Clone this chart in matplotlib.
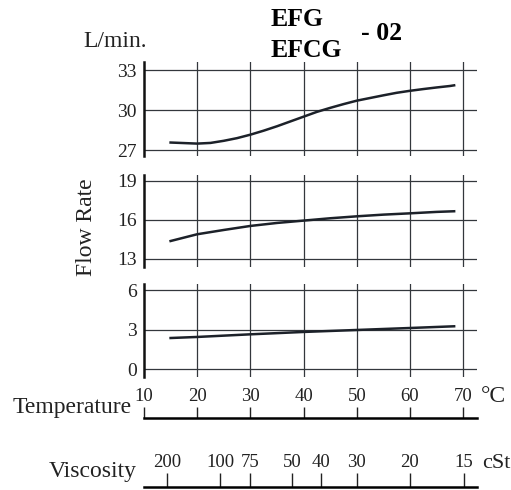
import numpy as np
import matplotlib
matplotlib.use("Agg")
import matplotlib.pyplot as plt

plt.rcParams["font.family"] = ["Liberation Serif", "DejaVu Serif"]

# flow rate (L/min) vs oil temperature (deg C), three pump sizes
temp_top = [15, 20, 22.5, 25, 27.5, 30, 32.5, 35, 37.5, 40, 42.5, 45, 47.5, 50,
            52.5, 55, 57.5, 60, 62.5, 65, 67.5, 68.3]
flow_top = [27.56, 27.48, 27.53, 27.69, 27.89, 28.15, 28.45, 28.78, 29.14, 29.5,
            29.86, 30.16, 30.44, 30.7, 30.9, 31.1, 31.29, 31.44, 31.57, 31.69, 31.8, 31.85]

temp_mid = [15, 20, 25, 30, 35, 40, 45, 50, 55, 60, 65, 68.3]
flow_mid = [14.38, 14.9, 15.23, 15.54, 15.77, 15.95, 16.13, 16.28, 16.41, 16.51, 16.62, 16.67]

temp_low = [15, 20, 30, 40, 50, 60, 68.3]
flow_low = [2.36, 2.44, 2.64, 2.82, 2.97, 3.12, 3.25]

panel_ticks = [[27, 30, 33], [13, 16, 19], [0, 3, 6]]
panel_lims = [(26.55, 33.6), (12.38, 19.46), (-0.6, 6.46)]

temp_ticks = [10, 20, 30, 40, 50, 60, 70]
visc_labels = ["200", "100", "75", "50", "40", "30", "20", "15"]
visc_at_temp = [14.3, 24.3, 29.9, 37.8, 43.3, 50.0, 60.0, 70.2]

W, H = 511, 490
fig = plt.figure(figsize=(W / 100, H / 100), dpi=100)

def box(x0, y0, x1, y1):
    # pixel box (top-left origin) -> figure fraction rect
    return [x0 / W, 1 - y1 / H, (x1 - x0) / W, (y1 - y0) / H]

xlim = (10, 72.6)
line_c = "#1c2129"
grid_c = "#33373c"
text_c = "#222222"

panels = [box(144, 62, 477, 156), box(144, 175, 477, 267), box(144, 284, 477, 377)]
series = [(temp_top, flow_top), (temp_mid, flow_mid), (temp_low, flow_low)]
for rect, (xs, ys), ticks, lim in zip(panels, series, panel_ticks, panel_lims):
    ax = fig.add_axes(rect)
    ax.set_xlim(*xlim)
    ax.set_ylim(*lim)
    for s in ["top", "right", "bottom"]:
        ax.spines[s].set_visible(False)
    ax.spines["left"].set_linewidth(1.8)
    ax.spines["left"].set_color("#111111")
    ax.set_xticks([])
    ax.set_yticks(ticks)
    ax.tick_params(axis="y", length=0, pad=5, labelsize=14, colors=text_c)
    for t in ticks:
        ax.axhline(t, color=grid_c, lw=0.9, zorder=1)
    for t in temp_ticks[1:]:
        ax.axvline(t, color=grid_c, lw=0.9, zorder=1)
    ax.plot(xs, ys, color=line_c, lw=1.8, zorder=3)

# temperature scale
axt = fig.add_axes(box(144, 410, 477, 418))
axt.set_xlim(*xlim)
axt.set_ylim(0, 1)
for s in ["top", "right", "left"]:
    axt.spines[s].set_visible(False)
axt.spines["bottom"].set_linewidth(1.8)
axt.set_yticks([])
axt.set_xticks(temp_ticks)
axt.tick_params(axis="x", direction="in", length=8, width=1.0, bottom=True,
                labelbottom=False, labeltop=True, top=False, pad=3.5, labelsize=13.5,
                colors=text_c)
axt.patch.set_alpha(0)

# viscosity scale, placed at the matching temperatures
axv = fig.add_axes(box(144, 477, 477, 487))
axv.set_xlim(*xlim)
axv.set_ylim(0, 1)
for s in ["top", "right", "left"]:
    axv.spines[s].set_visible(False)
axv.spines["bottom"].set_linewidth(1.8)
axv.set_yticks([])
axv.set_xticks(visc_at_temp)
axv.set_xticklabels(visc_labels)
axv.tick_params(axis="x", direction="in", length=10, width=1.0, bottom=True,
                labelbottom=False, labeltop=True, top=False, pad=4, labelsize=13.5,
                colors=text_c)
axv.patch.set_alpha(0)

fig.text(83 / W, 1 - 47 / H, "L/min.", fontsize=17, va="baseline", ha="left", color=text_c)
fig.text(87 / W, 1 - 227 / H, "Flow Rate", fontsize=17, rotation=90, va="center", ha="center",
         color=text_c)
fig.text(271 / W, 1 - 26 / H, "EFG", fontsize=18.5, fontweight="bold", va="baseline", ha="left")
fig.text(271 / W, 1 - 57 / H, "EFCG", fontsize=18.5, fontweight="bold", va="baseline", ha="left")
fig.text(361 / W, 1 - 40 / H, "- 02", fontsize=18.5, fontweight="bold", va="baseline", ha="left")
fig.text(132 / W, 1 - 413 / H, "Temperature", fontsize=17, va="baseline", ha="right", color=text_c)
fig.text(481 / W, 1 - 402 / H, "°C", fontsize=17, va="baseline", ha="left", color=text_c)
fig.text(137 / W, 1 - 477 / H, "Viscosity", fontsize=17, va="baseline", ha="right", color=text_c)
fig.text(482 / W, 1 - 468 / H, "cSt", fontsize=16, va="baseline", ha="left", color=text_c)

fig.savefig("out.png", dpi=100)
